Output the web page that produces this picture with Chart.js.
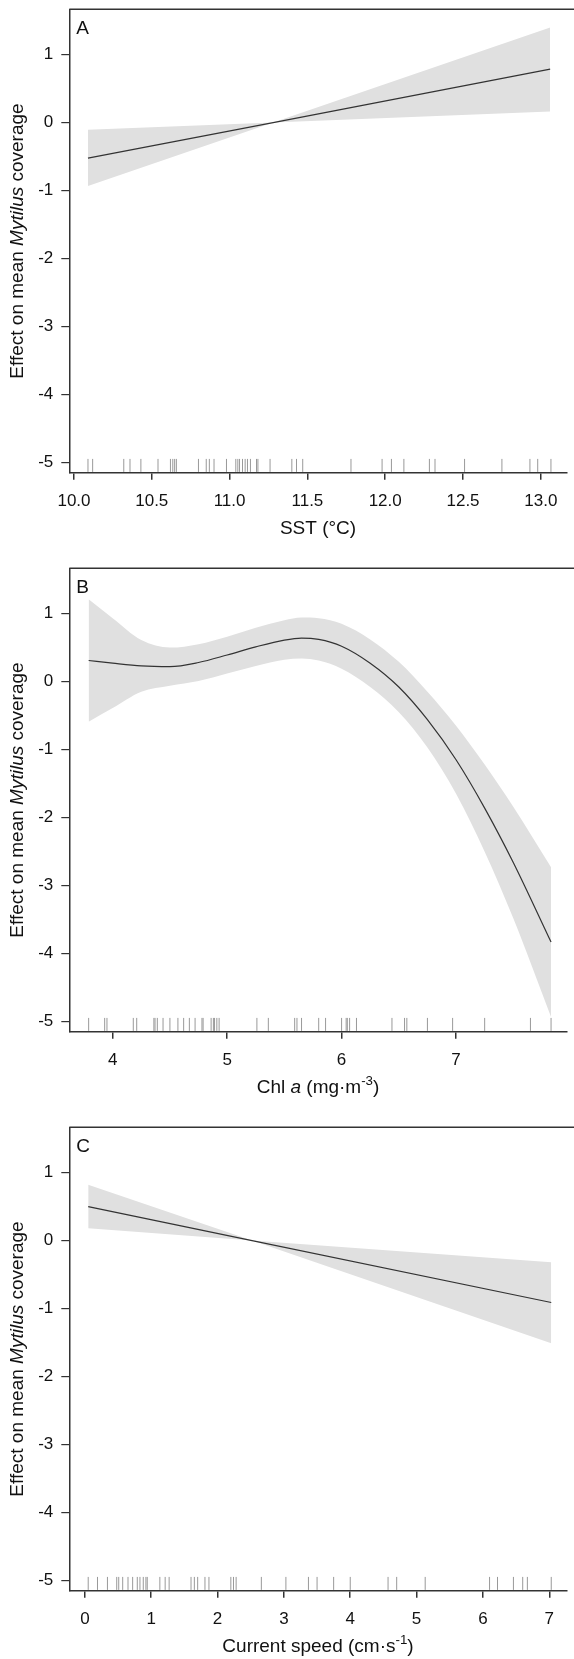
<!DOCTYPE html>
<html>
<head>
    <meta charset="utf-8" />
    <title>Effect on mean Mytilus coverage</title>
    <script src="https://cdn.jsdelivr.net/npm/chart.js"></script>
    <style>
        body { margin: 0; background: #fff; overflow: hidden; }
        .panel { width: 574px; height: 559px; position: relative; }
    </style>
</head>
<body>
    <div class="panel"><canvas id="chartA"></canvas></div>
    <div class="panel"><canvas id="chartB"></canvas></div>
    <div class="panel"><canvas id="chartC"></canvas></div>

    <script>
        // panel A - SST
        const sstX = [10.09, 11.28, 13.06];
        const sstFit = [-0.524, 0, 0.785];
        const sstUpper = [-0.107, 0, 1.397];
        const sstLower = [-0.931, 0, 0.162];
        const sstRug = [10.09, 10.12, 10.32, 10.36, 10.43, 10.54, 10.62, 10.635, 10.647, 10.658,
            10.80, 10.85, 10.87, 10.90, 10.98, 11.04, 11.053, 11.064, 11.083, 11.10, 11.115, 11.134,
            11.173, 11.182, 11.26, 11.40, 11.43, 11.47, 11.78, 11.98, 12.04, 12.12, 12.284, 12.32,
            12.51, 12.75, 12.93, 12.98, 13.065];
        const sstTicks = [10.0, 10.5, 11.0, 11.5, 12.0, 12.5, 13.0];

        // panel B - Chl a
        const chlX = [3.79, 4.0, 4.25, 4.5, 4.75, 5.0, 5.25, 5.5, 5.65, 5.8, 6.0, 6.25, 6.5, 6.75, 7.0, 7.25, 7.5, 7.83];
        const chlFit = [0.31, 0.27, 0.23, 0.22, 0.28, 0.39, 0.51, 0.61, 0.64, 0.62, 0.52, 0.27, -0.08, -0.56, -1.15, -1.86, -2.66, -3.83];
        const chlUpper = [1.21, 0.93, 0.61, 0.50, 0.55, 0.66, 0.79, 0.90, 0.94, 0.93, 0.85, 0.62, 0.29, -0.15, -0.65, -1.22, -1.84, -2.73];
        const chlLower = [-0.59, -0.39, -0.15, -0.06, 0.01, 0.12, 0.23, 0.32, 0.34, 0.31, 0.19, -0.08, -0.45, -0.97, -1.65, -2.50, -3.48, -4.93];
        const chlRug = [3.79, 3.93, 3.95, 4.18, 4.21, 4.36, 4.37, 4.39, 4.44, 4.50, 4.57, 4.62, 4.67,
            4.72, 4.78, 4.79, 4.86, 4.88, 4.89, 4.91, 4.93, 5.26, 5.36, 5.59, 5.61, 5.65, 5.80, 5.86,
            6.00, 6.04, 6.05, 6.07, 6.13, 6.44, 6.55, 6.57, 6.75, 6.97, 7.25, 7.65, 7.83];
        const chlTicks = [4, 5, 6, 7];

        // panel C - current speed
        const curX = [0.05, 2.52, 7.03];
        const curFit = [0.50, 0, -0.91];
        const curUpper = [0.82, 0, -0.32];
        const curLower = [0.18, 0, -1.51];
        const curRug = [0.05, 0.19, 0.34, 0.48, 0.51, 0.57, 0.65, 0.72, 0.79, 0.83, 0.88, 0.92, 0.94,
            1.13, 1.21, 1.27, 1.60, 1.65, 1.70, 1.81, 1.87, 2.20, 2.24, 2.28, 2.66, 3.03, 3.37, 3.50,
            3.75, 4.00, 4.57, 4.70, 5.13, 6.10, 6.22, 6.46, 6.60, 6.67, 7.03];
        const curTicks = [0, 1, 2, 3, 4, 5, 6, 7];

        const yTicks = [-5, -4, -3, -2, -1, 0, 1];

        const FONT = '"Liberation Sans", Arial, sans-serif';
        const FRAME = '#333';
        const RUG_Y = -5.04;

        function richFont(p, size) {
            return (p.it ? 'italic ' : '') + (p.sup ? size * 0.7 : size) + 'px ' + FONT;
        }

        function drawRich(ctx, parts, x, y, size) {
            let w = 0;
            parts.forEach(p => { ctx.font = richFont(p, size); w += ctx.measureText(p.t).width; });
            let cx = x - w / 2;
            ctx.textAlign = 'left';
            ctx.textBaseline = 'middle';
            parts.forEach(p => {
                ctx.font = richFont(p, size);
                ctx.fillText(p.t, cx, p.sup ? y - size * 0.35 : y);
                cx += ctx.measureText(p.t).width;
            });
        }

        const decor = {
            id: 'decor',
            afterDraw(chart, args, opts) {
                const { ctx, chartArea: a } = chart;
                ctx.save();
                ctx.strokeStyle = FRAME;
                ctx.lineWidth = 1.5;
                ctx.beginPath();
                ctx.moveTo(a.left, a.top);
                ctx.lineTo(chart.width, a.top);
                ctx.stroke();

                ctx.fillStyle = '#111';
                ctx.font = '19px ' + FONT;
                ctx.textAlign = 'left';
                ctx.textBaseline = 'middle';
                ctx.fillText(opts.letter, a.left + 7, a.top + 19);

                drawRich(ctx, opts.xTitle, 318, a.bottom + 56, 19);

                ctx.translate(18, (a.top + a.bottom) / 2);
                ctx.rotate(-Math.PI / 2);
                drawRich(ctx, [{ t: 'Effect on mean ' }, { t: 'Mytilus', it: true }, { t: ' coverage' }], 0, 0, 19);
                ctx.restore();
            }
        };

        function pts(xs, ys) {
            return xs.map((x, i) => ({ x: x, y: ys[i] }));
        }

        function noPad(s) {
            s.paddingLeft = 0;
            s.paddingRight = 0;
            s.paddingTop = 0;
            s.paddingBottom = 0;
        }

        function makeChart(id, cfg) {
            const curve = cfg.smooth ? 'monotone' : 'default';
            new Chart(document.getElementById(id), {
                type: 'line',
                data: {
                    datasets: [
                        { data: pts(cfg.x, cfg.upper), borderWidth: 0, pointRadius: 0, fill: '+1',
                          backgroundColor: '#e0e0e0', cubicInterpolationMode: curve, order: 3 },
                        { data: pts(cfg.x, cfg.lower), borderWidth: 0, pointRadius: 0, fill: false,
                          cubicInterpolationMode: curve, order: 2 },
                        { data: pts(cfg.x, cfg.fit), borderColor: '#333', borderWidth: 1.2,
                          pointRadius: 0, fill: false, cubicInterpolationMode: curve, order: 0 },
                        { data: cfg.rug.map(v => ({ x: v, y: RUG_Y })), showLine: false,
                          pointStyle: 'line', rotation: 90, pointRadius: 6.5,
                          borderColor: '#999', borderWidth: 1, order: 1 }
                    ]
                },
                options: {
                    responsive: true,
                    maintainAspectRatio: false,
                    animation: false,
                    events: [],
                    layout: { padding: { top: 9.3, right: 0, bottom: 0, left: 0 } },
                    plugins: {
                        legend: { display: false },
                        tooltip: { enabled: false },
                        filler: { drawTime: 'beforeDatasetsDraw' },
                        decor: { letter: cfg.letter, xTitle: cfg.xTitle }
                    },
                    scales: {
                        x: {
                            type: 'linear',
                            min: cfg.xmin,
                            max: cfg.xmax,
                            afterBuildTicks: s => { s.ticks = cfg.ticks.map(v => ({ value: v })); },
                            afterFit: s => { s.height = 86.3; noPad(s); },
                            ticks: {
                                callback: v => cfg.fmt(v),
                                font: { family: FONT, size: 17 },
                                color: '#111',
                                padding: 11,
                                maxRotation: 0,
                                autoSkip: false
                            },
                            grid: { drawOnChartArea: false, drawTicks: true, tickLength: 7, color: FRAME, lineWidth: 1.5 },
                            border: { display: true, color: FRAME, width: 1.5 }
                        },
                        y: {
                            min: -5.147,
                            max: 1.665,
                            afterBuildTicks: s => { s.ticks = yTicks.map(v => ({ value: v })); },
                            afterFit: s => { s.width = 69.3; noPad(s); },
                            ticks: {
                                font: { family: FONT, size: 17 },
                                color: '#111',
                                padding: 8
                            },
                            grid: { drawOnChartArea: false, drawTicks: true, tickLength: 8, color: FRAME, lineWidth: 1.2 },
                            border: { display: true, color: FRAME, width: 1.5 }
                        }
                    }
                },
                plugins: [decor]
            });
        }

        makeChart('chartA', {
            letter: 'A', x: sstX, fit: sstFit, upper: sstUpper, lower: sstLower, rug: sstRug,
            ticks: sstTicks, xmin: 9.97, xmax: 13.165, fmt: v => v.toFixed(1),
            xTitle: [{ t: 'SST (°C)' }]
        });
        makeChart('chartB', {
            letter: 'B', x: chlX, fit: chlFit, upper: chlUpper, lower: chlLower, rug: chlRug,
            ticks: chlTicks, xmin: 3.621, xmax: 7.965, fmt: v => String(v), smooth: true,
            xTitle: [{ t: 'Chl ' }, { t: 'a', it: true }, { t: ' (mg·m' }, { t: '-3', sup: true }, { t: ')' }]
        });
        makeChart('chartC', {
            letter: 'C', x: curX, fit: curFit, upper: curUpper, lower: curLower, rug: curRug,
            ticks: curTicks, xmin: -0.235, xmax: 7.26, fmt: v => String(v),
            xTitle: [{ t: 'Current speed (cm·s' }, { t: '-1', sup: true }, { t: ')' }]
        });
    </script>
</body>
</html>
